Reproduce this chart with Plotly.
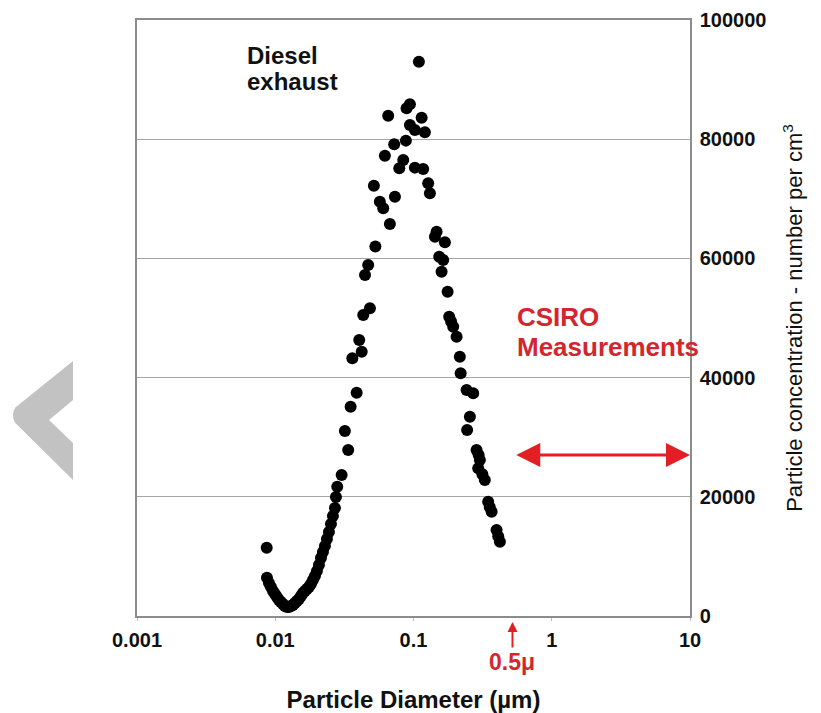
import math
import plotly.graph_objects as go

# Particle diameter (µm) and particle concentration (number per cm³)
diameter_um = [
    0.00867, 0.00871, 0.00900, 0.00931, 0.00962, 0.00995, 0.01028, 0.01064, 0.01099, 0.01137,
    0.01175, 0.01216, 0.01256, 0.01300, 0.01343, 0.01388, 0.01436, 0.01484, 0.01535, 0.01586,
    0.01640, 0.01695, 0.01753, 0.01812, 0.01874, 0.01937, 0.02003, 0.02070, 0.02140, 0.02213,
    0.02288, 0.02365, 0.02445, 0.02528, 0.02613, 0.02702, 0.02748, 0.02808, 0.0302, 0.0337,
    0.0319, 0.0351, 0.0388, 0.0361, 0.0422, 0.0405, 0.0433, 0.0484, 0.0446, 0.0470,
    0.0530, 0.0675, 0.0604, 0.0571, 0.0734, 0.0517, 0.0621, 0.0789, 0.0843, 0.0725,
    0.0881, 0.0656, 0.0891, 0.0942, 0.0942, 0.1023, 0.1094, 0.1145, 0.1208, 0.1023,
    0.1175, 0.1277, 0.1314, 0.1469, 0.1429, 0.1687, 0.1535, 0.1640, 0.1596, 0.1765,
    0.1812, 0.1870, 0.1937, 0.2050, 0.2163, 0.2193, 0.2421, 0.2703, 0.2558, 0.2443,
    0.2858, 0.2960, 0.302, 0.2938, 0.3150, 0.328, 0.3467, 0.3560, 0.3673, 0.399,
    0.4100, 0.4217,
]
concentration = [
    11460, 6400, 5540, 4870, 4200, 3690, 3190, 2680, 2350, 2010,
    1680, 1510, 1510, 1680, 1850, 2180, 2520, 2850, 3360, 3860,
    4200, 4530, 4870, 5370, 6040, 6710, 7550, 8560, 9730, 10740,
    11750, 12920, 14100, 15440, 16780, 18120, 19970, 21700, 23660, 27850,
    31040, 35120, 37470, 43240, 44350, 46310, 50510, 51630, 57220, 58900,
    62000, 65780, 68410, 69520, 70360, 72200, 77240, 75120, 76520, 79150,
    79760, 83950, 85190, 85860, 82390, 81550, 93010, 83610, 81160, 75230,
    75010, 72610, 70930, 64490, 63650, 62710, 60290, 59740, 57770, 54420,
    50220, 49400, 48550, 46870, 43510, 40720, 37920, 37370, 33440, 31210,
    27850, 27000, 26180, 24780, 23800, 22820, 19180, 18300, 17500, 14430,
    13400, 12470,
]

x_tick_values = [0.001, 0.01, 0.1, 1, 10]
x_tick_labels = ["0.001", "0.01", "0.1", "1", "10"]
y_tick_values = [0, 20000, 40000, 60000, 80000, 100000]
y_tick_labels = ["0", "20000", "40000", "60000", "80000", "100000"]

FONT = "Liberation Sans, Arial, sans-serif"
RED_TEXT = "#d3262f"
RED_ARROW = "#e31e24"
GRID = "#a6a6a6"

fig = go.Figure()
fig.add_trace(go.Scatter(
    x=diameter_um, y=concentration, mode="markers",
    marker=dict(size=12, color="black", line=dict(width=0)),
    showlegend=False, hoverinfo="x+y",
))

# page body has an 8px margin, so the figure is a little smaller than the window
fig.update_layout(
    width=813, height=705,
    margin=dict(l=129, r=131, t=12, b=97),
    paper_bgcolor="white", plot_bgcolor="white",
    font=dict(family=FONT, color="black"),
    xaxis=dict(
        type="log", range=[-3, 1],
        tickvals=x_tick_values, ticktext=x_tick_labels,
        tickfont=dict(size=20, family=FONT, color="#111", weight="bold"),
        showgrid=False, zeroline=False,
        showline=True, linecolor="#8c8c8c", linewidth=2, mirror=True,
        ticks="outside", ticklen=3, tickcolor="#bbbbbb",
        ticklabelstandoff=2,
        title=dict(text="<b>Particle Diameter (µm)</b>",
                   font=dict(size=24, family=FONT, color="#111"), standoff=41),
        automargin=False,
    ),
    yaxis=dict(
        side="right", range=[0, 100000],
        tickvals=y_tick_values, ticktext=y_tick_labels,
        tickfont=dict(size=20, family=FONT, color="#111", weight="bold"),
        showgrid=True, gridcolor=GRID, gridwidth=1,
        zeroline=False,
        showline=True, linecolor="#8c8c8c", linewidth=1.5, mirror=True,
        ticks="", ticklabelstandoff=4,
        title=dict(text="Particle concentration - number per cm<sup>3</sup>",
                   font=dict(size=22, family=FONT, color="#111"), standoff=21),
        automargin=False,
    ),
)

# Text annotations (one per line to keep the line spacing of the original)
def label(text, x, y, size, color):
    fig.add_annotation(
        xref="paper", yref="paper", x=x, y=y, xanchor="left", yanchor="middle",
        text=f"<b>{text}</b>", showarrow=False, align="left",
        font=dict(size=size, family=FONT, color=color),
    )

label("Diesel", 0.195, 0.940, 24, "#111")
label("exhaust", 0.195, 0.897, 24, "#111")
label("CSIRO", 0.683, 0.502, 26, RED_TEXT)
label("Measurements", 0.683, 0.451, 26, RED_TEXT)

# Double-headed red arrow for the measurement range
fig.add_annotation(
    xref="x", yref="y", axref="x", ayref="y",
    x=math.log10(10), y=27000, ax=math.log10(0.54), ay=27000,
    text="", showarrow=True, arrowside="end+start",
    arrowhead=2, arrowsize=1.6, arrowwidth=3, arrowcolor=RED_ARROW,
)

# 0.5 µm marker below the axis
fig.add_annotation(
    xref="x", yref="paper", x=math.log10(0.52), y=-0.01,
    text="<b>0.5μ</b>", showarrow=True, ax=0, ay=40,
    arrowhead=2, arrowsize=1, arrowwidth=2, arrowcolor=RED_ARROW,
    font=dict(size=23, family=FONT, color=RED_TEXT),
)

# Grey chevron overlay at the left edge
fig.add_shape(
    type="path", xref="paper", yref="paper",
    path="M -0.1157 0.4279 L -0.2200 0.3500 Q -0.2290 0.3372 -0.2200 0.3240 "
         "L -0.1157 0.2282 L -0.1157 0.2903 L -0.1591 0.3289 L -0.1157 0.3624 Z",
    fillcolor="#c2c2c2", line=dict(width=0), layer="above",
)

fig.write_html("out.html")
